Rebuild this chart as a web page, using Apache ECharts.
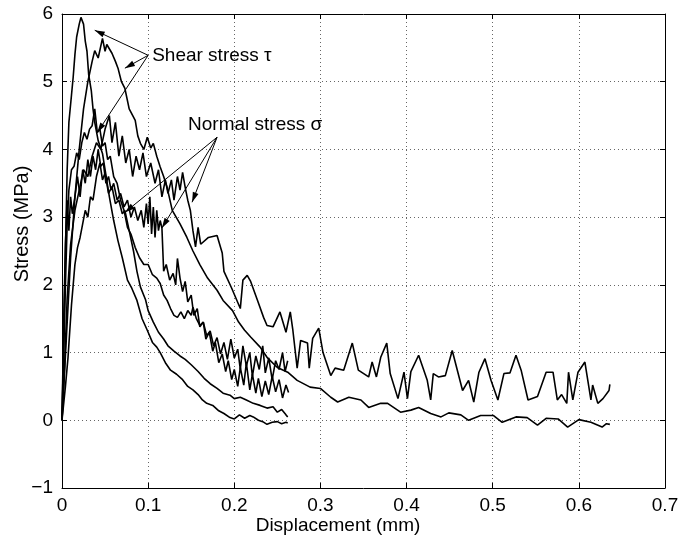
<!DOCTYPE html>
<html>
<head>
<meta charset="utf-8">
<script src="https://cdn.jsdelivr.net/npm/echarts@6/dist/echarts.min.js"></script>
<style>
  html, body { margin: 0; padding: 0; background: #fff; }
  #chart { width: 682px; height: 542px; }
</style>
</head>
<body>
<div id="chart"></div>
<script>
// Axis ticks
const xTicks = [0, 0.1, 0.2, 0.3, 0.4, 0.5, 0.6, 0.7];
const yTicks = [-1, 0, 1, 2, 3, 4, 5, 6];

// Test A – shear stress (sharp peak, drops quickly)
const shearA = [
  [0,0],[0.002,1.2],[0.004,2.5],[0.006,3.7],[0.008,4.4],[0.011,4.8],[0.013,5.07],[0.015,5.4],
  [0.017,5.66],[0.02,5.85],[0.022,5.95],[0.025,5.85],[0.027,5.6],[0.029,5.45],[0.031,5.1],
  [0.034,4.87],[0.036,4.6],[0.038,4.4],[0.042,4.13],[0.047,3.94],[0.05,3.7],[0.055,3.3],
  [0.06,2.95],[0.065,2.65],[0.07,2.4],[0.076,2.07],[0.081,1.95],[0.087,1.77],[0.093,1.5],
  [0.099,1.33],[0.105,1.15],[0.11,1.08],[0.114,1.0],[0.12,0.85],[0.126,0.74],[0.133,0.68],
  [0.14,0.6],[0.146,0.5],[0.152,0.45],[0.158,0.38],[0.163,0.3],[0.168,0.25],[0.175,0.22],
  [0.182,0.14],[0.188,0.1],[0.195,0.04],[0.2,0.02],[0.206,0.08],[0.212,0.03],[0.218,0.07],
  [0.222,0.05],[0.228,0.0],[0.233,-0.02],[0.238,-0.06],[0.244,-0.03],[0.25,-0.02],
  [0.255,-0.05],[0.26,-0.03],[0.262,-0.04]
];

// Test A – normal stress
const normalA = [
  [0,0],[0.004,0.5],[0.007,0.93],[0.011,1.7],[0.015,2.3],[0.018,2.55],[0.021,2.7],[0.024,2.9],
  [0.027,3.1],[0.03,3.0],[0.033,3.3],[0.036,3.25],[0.04,3.6],[0.044,3.8],[0.047,3.55],
  [0.05,3.65],[0.054,3.35],[0.058,3.45],[0.062,3.2],[0.066,3.25],[0.07,3.05],[0.073,3.1],
  [0.078,2.8],[0.083,2.5],[0.087,2.2],[0.091,1.97],[0.097,1.78],[0.1,1.62],[0.106,1.45],
  [0.112,1.3],[0.118,1.2],[0.123,1.1],[0.13,1.02],[0.137,0.95],[0.143,0.9],[0.15,0.82],
  [0.158,0.72],[0.165,0.62],[0.172,0.54],[0.18,0.47],[0.187,0.4],[0.195,0.37],[0.2,0.32],
  [0.207,0.34],[0.214,0.3],[0.222,0.25],[0.23,0.22],[0.238,0.18],[0.245,0.2],[0.25,0.12],
  [0.255,0.16],[0.26,0.08],[0.262,0.05]
];

// Test B – shear stress (long run)
const shearB = [
  [0,0],[0.005,1.2],[0.01,2.4],[0.015,3.3],[0.02,4.0],[0.025,4.6],[0.03,5.0],[0.035,5.3],
  [0.038,5.46],[0.042,5.35],[0.047,5.64],[0.05,5.45],[0.052,5.55],[0.058,5.42],[0.062,5.3],
  [0.065,5.2],[0.069,5.0],[0.073,4.9],[0.078,4.6],[0.085,4.43],[0.088,4.2],[0.091,4.09],
  [0.095,4.0],[0.099,4.18],[0.103,4.02],[0.106,4.09],[0.11,3.9],[0.114,3.74],[0.118,3.6],
  [0.122,3.44],[0.128,3.1],[0.137,2.9],[0.145,2.7],[0.152,2.5],[0.16,2.3],[0.169,2.1],
  [0.18,1.92],[0.187,1.77],[0.198,1.62],[0.205,1.45],[0.212,1.33],[0.219,1.23],[0.23,1.08],
  [0.238,0.93],[0.25,0.78],[0.262,0.71],[0.273,0.59],[0.288,0.49],[0.3,0.47],[0.312,0.34],
  [0.32,0.27],[0.333,0.34],[0.347,0.3],[0.356,0.19],[0.37,0.25],[0.378,0.25],[0.393,0.12],
  [0.405,0.15],[0.414,0.19],[0.428,0.1],[0.44,0.05],[0.449,0.11],[0.463,0.08],[0.472,0.0],
  [0.486,0.07],[0.501,0.07],[0.511,-0.03],[0.527,0.05],[0.54,0.04],[0.552,-0.07],
  [0.562,0.03],[0.576,0.02],[0.587,-0.1],[0.6,0.01],[0.614,-0.03],[0.627,-0.1],
  [0.632,-0.05],[0.636,-0.06]
];

// Test B – normal stress (long run)
const normalB = [
  [0,0],[0.003,0.8],[0.006,1.8],[0.01,2.6],[0.015,3.1],[0.02,3.4],[0.025,3.7],[0.03,3.6],
  [0.035,3.9],[0.04,4.1],[0.045,4.0],[0.05,4.3],[0.055,4.5],[0.058,4.1],[0.062,4.4],
  [0.066,3.9],[0.07,4.2],[0.074,3.8],[0.078,4.0],[0.082,3.6],[0.086,3.9],[0.09,3.7],
  [0.094,3.95],[0.098,3.6],[0.103,3.8],[0.108,3.5],[0.112,3.7],[0.116,3.3],[0.12,3.55],
  [0.123,3.35],[0.127,3.55],[0.13,3.25],[0.134,3.6],[0.137,3.4],[0.14,3.66],[0.143,3.44],
  [0.146,3.25],[0.149,3.1],[0.152,2.8],[0.155,2.56],[0.158,2.85],[0.161,2.6],[0.17,2.7],
  [0.18,2.73],[0.186,2.47],[0.188,2.2],[0.197,1.95],[0.207,1.65],[0.21,2.07],[0.215,2.14],
  [0.219,2.05],[0.227,1.77],[0.234,1.52],[0.238,1.4],[0.245,1.38],[0.253,1.6],[0.26,1.3],
  [0.265,1.6],[0.268,1.33],[0.273,0.77],[0.277,1.18],[0.285,1.14],[0.287,0.77],[0.291,1.21],
  [0.298,1.36],[0.303,1.0],[0.312,0.66],[0.317,0.77],[0.327,0.74],[0.337,1.14],[0.344,0.74],
  [0.356,0.64],[0.36,0.86],[0.365,0.64],[0.37,0.93],[0.377,1.14],[0.381,0.69],[0.39,0.32],
  [0.397,0.71],[0.401,0.32],[0.405,0.72],[0.414,0.96],[0.424,0.59],[0.428,0.3],[0.431,0.69],
  [0.437,0.64],[0.445,0.66],[0.453,1.03],[0.465,0.44],[0.472,0.59],[0.478,0.27],[0.484,0.71],
  [0.491,0.91],[0.498,0.59],[0.506,0.3],[0.513,0.69],[0.52,0.7],[0.527,0.96],[0.533,0.74],
  [0.541,0.3],[0.552,0.35],[0.562,0.71],[0.57,0.71],[0.575,0.3],[0.58,0.38],[0.586,0.25],
  [0.588,0.71],[0.593,0.3],[0.599,0.71],[0.607,0.86],[0.614,0.3],[0.616,0.52],[0.622,0.25],
  [0.628,0.32],[0.635,0.44],[0.636,0.53]
];

// Test C – shear stress
const shearC = [
  [0,0],[0.002,1.0],[0.004,2.0],[0.006,2.9],[0.008,3.4],[0.011,3.7],[0.014,3.75],[0.017,3.95],
  [0.02,3.85],[0.023,4.1],[0.026,4.25],[0.029,4.15],[0.032,4.3],[0.035,4.35],[0.038,4.6],
  [0.041,4.25],[0.044,4.3],[0.047,4.05],[0.05,4.1],[0.053,3.85],[0.056,3.9],[0.06,3.6],
  [0.064,3.5],[0.068,3.25],[0.072,3.1],[0.076,2.85],[0.08,2.75],[0.085,2.55],[0.09,2.4],
  [0.095,2.3],[0.1,2.3],[0.105,2.15],[0.11,2.1],[0.114,2.02],[0.118,1.85],[0.122,1.77],
  [0.126,1.65],[0.13,1.55],[0.134,1.52],[0.138,1.6],[0.142,1.5],[0.146,1.62],[0.15,1.55],
  [0.152,1.67],[0.156,1.5],[0.16,1.4],[0.164,1.45],[0.168,1.25],[0.172,1.32],[0.176,1.1],
  [0.18,1.22],[0.184,0.98],[0.188,1.15],[0.192,0.9],[0.196,1.2],[0.2,0.92],[0.204,1.05],
  [0.207,0.75],[0.21,1.1],[0.214,0.8],[0.218,1.0],[0.221,0.65],[0.225,0.95],[0.229,0.75],
  [0.233,1.1],[0.236,0.7],[0.24,0.92],[0.244,0.6],[0.248,0.88],[0.252,0.75],[0.256,1.0],
  [0.259,0.72],[0.262,0.88]
];

// Test C – normal stress
const normalC = [
  [0,0],[0.002,1.5],[0.004,2.6],[0.006,3.25],[0.008,2.8],[0.01,3.3],[0.012,3.05],[0.015,3.3],
  [0.018,3.6],[0.021,3.3],[0.024,3.7],[0.027,3.5],[0.03,3.85],[0.033,3.6],[0.036,3.9],
  [0.039,3.7],[0.042,4.0],[0.045,3.75],[0.048,3.8],[0.051,3.5],[0.054,3.6],[0.057,3.4],
  [0.06,3.5],[0.064,3.25],[0.068,3.35],[0.072,3.15],[0.076,3.25],[0.08,3.0],[0.084,3.15],
  [0.088,2.95],[0.092,3.1],[0.095,2.85],[0.098,3.2],[0.1,2.9],[0.102,3.3],[0.104,2.75],
  [0.106,3.15],[0.108,2.7],[0.11,3.1],[0.112,2.8],[0.114,2.95],[0.116,2.84],[0.118,2.2],
  [0.121,2.3],[0.125,2.07],[0.129,2.17],[0.132,2.0],[0.134,2.39],[0.137,2.1],[0.14,1.9],
  [0.143,2.05],[0.146,1.75],[0.15,1.85],[0.153,1.55],[0.157,1.65],[0.16,1.38],[0.164,1.45],
  [0.167,1.2],[0.171,1.3],[0.175,1.02],[0.178,1.15],[0.182,0.85],[0.186,0.98],[0.19,0.72],
  [0.193,0.88],[0.197,0.6],[0.2,0.75],[0.204,0.5],[0.207,0.78],[0.211,0.52],[0.214,0.85],
  [0.218,0.45],[0.221,0.68],[0.225,0.4],[0.228,0.62],[0.232,0.35],[0.236,0.58],[0.24,0.38],
  [0.244,0.65],[0.248,0.42],[0.252,0.6],[0.256,0.33],[0.26,0.52],[0.263,0.41]
];

// Annotation labels and the points their arrows start from / point at (data units)
const shearLabel = { text: 'Shear stress \u03c4', at: [0.1, 5.39] };
const shearTargets = [[0.038, 5.76], [0.073, 5.2], [0.041, 4.25]];
const normalLabel = { text: 'Normal stress \u03c3', at: [0.18, 4.18] };
const normalTargets = [[0.073, 3.07], [0.116, 2.84], [0.151, 3.22]];

const FONT = '"Liberation Sans", Arial, Helvetica, sans-serif';

const chart = echarts.init(document.getElementById('chart'), null, { renderer: 'canvas' });

function fmtX(v) {
  const r = Math.round(v * 10) / 10;
  return r === 0 ? '0' : String(r);
}
function fmtY(v) {
  const r = Math.round(v);
  return r < 0 ? '\u2212' + Math.abs(r) : String(r);
}

const gridLine = { show: true, lineStyle: { color: '#000', width: 1, type: [1, 3], opacity: 0.6 } };
const tickIn = { show: true, inside: true, length: 5, lineStyle: { color: '#000', width: 1 } };
const axisLine = { show: true, onZero: false, lineStyle: { color: '#000', width: 1 } };
const labelStyle = { color: '#000', fontFamily: FONT, fontSize: 19 };

const curveStyle = { color: '#000', width: 1.6 };
function curve(name, data) {
  return {
    name, type: 'line', data, xAxisIndex: 0, yAxisIndex: 0,
    showSymbol: false, symbol: 'none', silent: true, animation: false,
    lineStyle: curveStyle, z: 3
  };
}

// Arrow shafts: one short line series per arrow, from the label point to its target
const arrowPairs = shearTargets.map(t => [shearLabel.at, t])
  .concat(normalTargets.map(t => [normalLabel.at, t]));
const arrowSeries = arrowPairs.map((p, i) => ({
  name: 'arrow' + i, type: 'line', data: p, xAxisIndex: 0, yAxisIndex: 0,
  showSymbol: false, symbol: 'none', silent: true, animation: false,
  lineStyle: { color: '#000', width: 1 }, z: 4
}));

chart.setOption({
  backgroundColor: '#fff',
  animation: false,
  grid: { left: 62, right: 17, top: 14, bottom: 54, containLabel: false },
  xAxis: [
    {
      type: 'value', min: xTicks[0], max: xTicks[xTicks.length - 1], interval: 0.1, position: 'bottom',
      axisLine, axisTick: tickIn, splitLine: gridLine,
      axisLabel: Object.assign({ margin: 8, formatter: fmtX }, labelStyle)
    },
    {
      type: 'value', min: xTicks[0], max: xTicks[xTicks.length - 1], interval: 0.1, position: 'top',
      axisLine, axisTick: tickIn, splitLine: { show: false }, axisLabel: { show: false }
    }
  ],
  yAxis: [
    {
      type: 'value', min: yTicks[0], max: yTicks[yTicks.length - 1], interval: 1, position: 'left',
      axisLine, axisTick: tickIn, splitLine: gridLine,
      axisLabel: Object.assign({ margin: 9, formatter: fmtY }, labelStyle)
    },
    {
      type: 'value', min: yTicks[0], max: yTicks[yTicks.length - 1], interval: 1, position: 'right',
      axisLine, axisTick: tickIn, splitLine: { show: false }, axisLabel: { show: false }
    }
  ],
  series: [
    curve('shearA', shearA),
    curve('normalA', normalA),
    curve('shearB', shearB),
    curve('normalB', normalB),
    curve('shearC', shearC),
    curve('normalC', normalC)
  ].concat(arrowSeries)
});

// Arrowheads placed at each target, oriented along its shaft
function headAt(from, to) {
  const a = chart.convertToPixel({ xAxisIndex: 0, yAxisIndex: 0 }, from);
  const b = chart.convertToPixel({ xAxisIndex: 0, yAxisIndex: 0 }, to);
  const ang = Math.atan2(b[1] - a[1], b[0] - a[0]);
  const L = 10, W = 3;
  const bx = b[0] - L * Math.cos(ang), by = b[1] - L * Math.sin(ang);
  const nx = -Math.sin(ang) * W, ny = Math.cos(ang) * W;
  return {
    type: 'polygon', silent: true, z: 10,
    shape: { points: [[b[0], b[1]], [bx + nx, by + ny], [bx - nx, by - ny]] },
    style: { fill: '#000' }
  };
}

const sp = chart.convertToPixel({ xAxisIndex: 0, yAxisIndex: 0 }, shearLabel.at);
const np = chart.convertToPixel({ xAxisIndex: 0, yAxisIndex: 0 }, normalLabel.at);
chart.setOption({
  graphic: [
    {
      type: 'text', silent: true, x: 338, y: 526,
      style: { text: 'Displacement (mm)', fill: '#000', font: '19px ' + FONT, align: 'center', verticalAlign: 'middle' }
    },
    {
      type: 'text', silent: true, x: 22, y: 224, rotation: Math.PI / 2,
      style: { text: 'Stress (MPa)', fill: '#000', font: '20px ' + FONT, align: 'center', verticalAlign: 'middle' }
    },
    {
      type: 'text', silent: true, x: sp[0] + 4, y: sp[1],
      style: { text: shearLabel.text, fill: '#000', font: '19px ' + FONT, align: 'left', verticalAlign: 'middle' }
    },
    {
      type: 'text', silent: true, x: np[0] - 29, y: np[1] - 12,
      style: { text: normalLabel.text, fill: '#000', font: '19px ' + FONT, align: 'left', verticalAlign: 'middle' }
    }
  ].concat(arrowPairs.map(p => headAt(p[0], p[1])))
});
</script>
</body>
</html>
